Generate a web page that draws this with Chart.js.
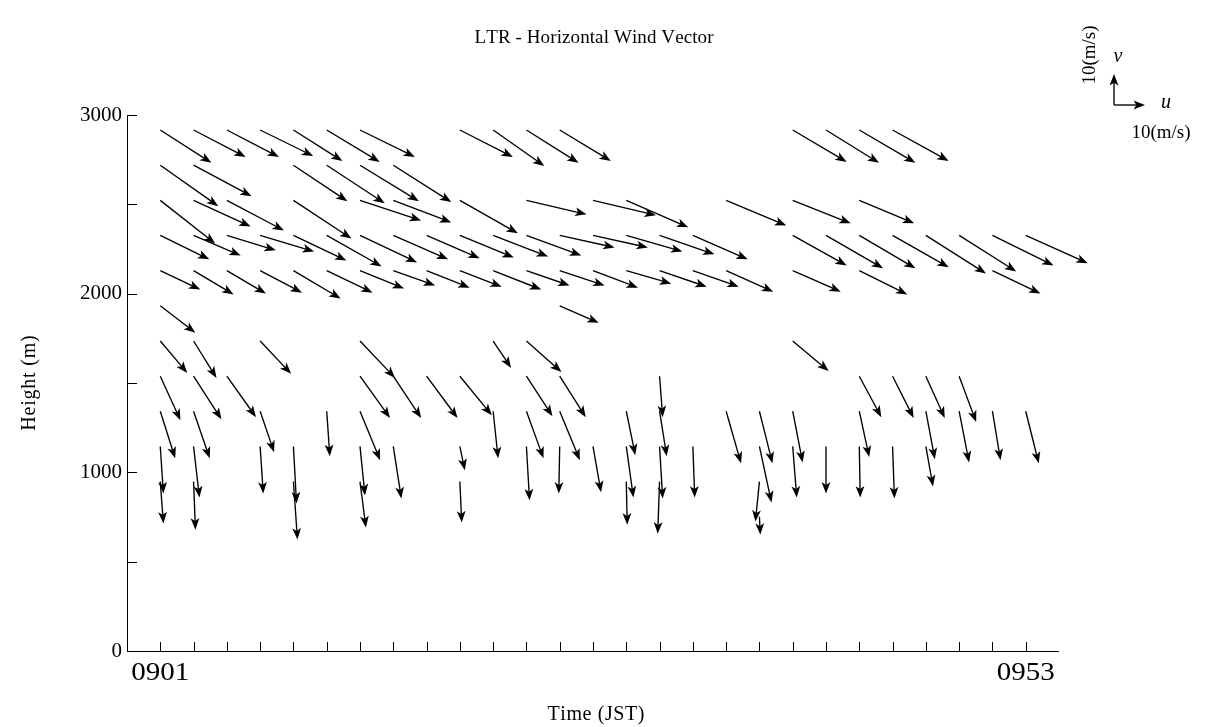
<!DOCTYPE html>
<html><head><meta charset="utf-8">
<script src="https://cdn.jsdelivr.net/npm/chart.js@4.4.1/dist/chart.umd.min.js"></script>
<style>html,body{margin:0;padding:0;background:#fff}#wrap{width:1221px;height:727px;position:relative}</style>
</head><body><div id="wrap"><canvas id="c" width="1221" height="727"></canvas></div>
<script>
const _ = null;
// time columns: minutes after 09:01 (every 2 minutes)
const timeMinutes = [0,2,4,6,8,10,12,14,16,18,20,22,24,26,28,30,32,34,36,38,40,42,44,46,48,50,52];
const xTickLabels = ['0901','0953'];
const xTickLabelValues = [0,52];
const yTickLabels = ['0','1000','2000','3000'];
const yTickLabelValues = [0,1000,2000,3000];
const yMinorTicks = [500,1500,2500];
const heights = [751,948,1145,1342,1538,1735,1932,2129,2326,2522,2719,2916];

// u (east) and v (north) wind components in m/s per height level
const u751  = [_,_,_,_,_,_,_,_,_,_,_,_,_,_,_,_,_,_,0.3,_,_,_,_,_,_,_,_];
const v751  = [_,_,_,_,_,_,_,_,_,_,_,_,_,_,_,_,_,_,-5.8,_,_,_,_,_,_,_,_];
const u948  = [1.0,0.6,_,_,1.3,_,1.9,_,_,0.6,_,_,_,_,0.3,-0.6,_,_,-1.3,_,_,_,_,_,_,_,_];
const v948  = [-13.5,-15.5,_,_,-18.7,_,-14.8,_,_,-13.2,_,_,_,_,-13.9,-16.8,_,_,-12.9,_,_,_,_,_,_,_,_];
const u1145 = [1.0,1.9,_,1.0,1.0,_,1.6,2.6,_,1.6,_,1.0,-0.3,2.6,2.3,1.0,0.6,_,3.9,1.3,0.0,0.3,0.6,2.3,_,_,_];
const v1145 = [-15.2,-16.5,_,-15.2,-18.4,_,-15.8,-16.8,_,-7.7,_,-17.4,-15.2,-14.8,-16.5,-16.8,-16.5,_,-18.1,-16.5,-15.2,-16.5,-16.8,-12.9,_,_,_];
const u1342 = [4.8,5.2,_,4.5,_,1.0,6.5,_,_,_,1.6,5.5,6.5,_,2.9,2.3,_,4.8,4.2,3.2,_,3.2,_,2.9,3.2,2.6,4.2];
const v1342 = [-15.2,-15.2,_,-13.2,_,-14.5,-15.8,_,_,_,-15.2,-15.2,-15.8,_,-14.2,-14.5,_,-16.8,-16.8,-16.5,_,-14.8,_,-15.5,-16.5,-15.8,-16.8];
const u1538 = [6.5,9.0,9.4,_,_,_,9.7,9.0,10.0,10.3,_,8.4,8.4,_,_,1.0,_,_,_,_,_,7.1,6.8,6.1,5.5,_,_];
const v1538 = [-14.2,-13.9,-13.2,_,_,_,-13.5,-13.5,-13.5,-12.6,_,-12.9,-13.2,_,_,-13.2,_,_,_,_,_,-13.2,-13.5,-13.5,-14.8,_,_];
const u1735 = [8.7,7.4,_,10.0,_,_,11.3,_,_,_,5.8,11.3,_,_,_,_,_,_,_,11.6,_,_,_,_,_,_,_];
const v1735 = [-10.3,-11.9,_,-10.6,_,_,-11.9,_,_,_,-8.7,-10.0,_,_,_,_,_,_,_,-9.7,_,_,_,_,_,_,_];
const u1932 = [11.3,_,_,_,_,_,_,_,_,_,_,_,12.6,_,_,_,_,_,_,_,_,_,_,_,_,_,_];
const v1932 = [-8.7,_,_,_,_,_,_,_,_,_,_,_,-5.5,_,_,_,_,_,_,_,_,_,_,_,_,_,_];
const u2129 = [12.9,12.9,12.6,13.5,15.2,14.8,14.2,13.5,13.9,13.5,15.5,13.9,14.5,14.5,14.5,15.2,14.8,15.2,_,15.5,_,15.5,_,_,_,15.5,_];
const v2129 = [-6.1,-7.7,-7.4,-7.1,-9.0,-7.1,-5.8,-4.8,-5.5,-5.2,-6.1,-4.8,-4.8,-5.5,-4.2,-5.2,-5.2,-6.8,_,-6.8,_,-7.7,_,_,_,-7.4,_];
const u2326 = [15.8,15.2,15.8,17.4,17.1,17.7,18.4,17.7,17.1,17.4,17.7,17.7,17.7,17.7,18.1,17.7,17.7,_,_,17.4,18.4,18.1,18.1,19.4,18.4,19.7,20.0];
const v2326 = [-7.7,-6.5,-4.8,-5.2,-8.1,-10.0,-8.7,-7.7,-7.4,-7.1,-6.8,-6.5,-3.9,-3.9,-5.2,-6.1,-7.7,_,_,-9.7,-10.6,-10.6,-10.3,-12.3,-11.6,-9.7,-9.0];
const u2522 = [17.7,18.4,18.4,_,18.7,_,19.7,18.7,_,18.7,_,19.4,_,20.3,20.0,_,_,19.4,_,18.7,_,17.7,_,_,_,_,_];
const v2522 = [-13.9,-8.4,-9.7,_,-12.3,_,-6.5,-7.1,_,-10.6,_,-4.5,_,-4.8,-8.7,_,_,-8.1,_,-7.4,_,-7.4,_,_,_,_,_];
const u2719 = [18.7,18.7,_,_,17.4,18.7,19.0,18.7,_,_,_,_,_,_,_,_,_,_,_,_,_,_,_,_,_,_,_];
const v2719 = [-13.2,-10.0,_,_,-11.6,-12.3,-11.6,-11.9,_,_,_,_,_,_,_,_,_,_,_,_,_,_,_,_,_,_,_];
const u2916 = [16.5,16.8,16.8,17.1,15.8,17.1,17.7,_,_,17.1,16.5,16.8,16.5,_,_,_,_,_,_,17.4,17.1,18.1,18.1,_,_,_,_];
const v2916 = [-10.6,-8.7,-8.7,-8.4,-10.0,-10.3,-8.7,_,_,-8.7,-11.6,-10.6,-10.0,_,_,_,_,_,_,-10.3,-10.6,-10.6,-10.0,_,_,_,_];

const uLevels = [u751,u948,u1145,u1342,u1538,u1735,u1932,u2129,u2326,u2522,u2719,u2916];
const vLevels = [v751,v948,v1145,v1342,v1538,v1735,v1932,v2129,v2326,v2522,v2719,v2916];

const PX_PER_MS = 3.1; // arrow length scale (10 m/s reference)
const FONT = '"Liberation Serif", "DejaVu Serif", serif';

const datasets = heights.map((h, li) => ({
  label: h + ' m',
  data: timeMinutes.map((t, ci) => ({x: t, y: h, u: uLevels[li][ci], v: vLevels[li][ci]})).filter(p => p.u !== null && p.v !== null),
  pointRadius: 0, showLine: false
}));

function arrow(ctx, x0, y0, x1, y1) {
  const dx = x1 - x0, dy = y1 - y0, len = Math.hypot(dx, dy);
  if (len < 0.5) return;
  const ux = dx / len, uy = dy / len;
  const hl = Math.min(11.5, len * 0.7), hw = 4.4;
  const bx = x1 - ux * hl, by = y1 - uy * hl;
  ctx.beginPath(); ctx.moveTo(x0, y0); ctx.lineTo(x1 - ux * hl * 0.6, y1 - uy * hl * 0.6); ctx.stroke();
  ctx.beginPath();
  ctx.moveTo(x1, y1);
  ctx.lineTo(bx - uy * hw, by + ux * hw);
  ctx.lineTo(x1 - ux * hl * 0.75, y1 - uy * hl * 0.75);
  ctx.lineTo(bx + uy * hw, by - ux * hw);
  ctx.closePath(); ctx.fill();
}

function spacedText(ctx, txt, cx, cy, spacing) {
  let w = 0; const ws = [];
  for (const ch of txt) { const m = ctx.measureText(ch).width; ws.push(m); w += m; }
  w += spacing * (txt.length - 1);
  let x = cx - w / 2;
  const al = ctx.textAlign; ctx.textAlign = 'left';
  [...txt].forEach((ch, i) => { ctx.fillText(ch, x, cy); x += ws[i] + spacing; });
  ctx.textAlign = al;
}

function stretchedText(ctx, txt, cx, cy, sx) {
  ctx.save(); ctx.translate(cx, cy); ctx.scale(sx, 1);
  ctx.textAlign = 'center'; ctx.fillText(txt, 0, 0); ctx.restore();
}

const vectorPlugin = {
  id: 'vectors',
  afterDatasetsDraw(chart) {
    const ctx = chart.ctx, xs = chart.scales.x, ys = chart.scales.y;
    ctx.save();
    ctx.strokeStyle = '#000'; ctx.fillStyle = '#000'; ctx.lineWidth = 1.35;
    chart.data.datasets.forEach(ds => ds.data.forEach(p => {
      const x0 = xs.getPixelForValue(p.x), y0 = ys.getPixelForValue(p.y);
      arrow(ctx, x0, y0, x0 + p.u * PX_PER_MS, y0 - p.v * PX_PER_MS);
    }));
    ctx.restore();
  },
  afterDraw(chart) {
    const ctx = chart.ctx, xs = chart.scales.x, ys = chart.scales.y, a = chart.chartArea;
    ctx.save();
    ctx.strokeStyle = '#000'; ctx.fillStyle = '#000'; ctx.lineWidth = 1;
    ctx.beginPath();
    ctx.moveTo(a.left + 0.5, a.top); ctx.lineTo(a.left + 0.5, a.bottom + 0.5); ctx.lineTo(a.right, a.bottom + 0.5);
    ctx.stroke();
    ctx.beginPath();
    timeMinutes.forEach(t => { const x = Math.round(xs.getPixelForValue(t)) + 0.5; ctx.moveTo(x, a.bottom); ctx.lineTo(x, a.bottom - 9); });
    yTickLabelValues.concat(yMinorTicks).forEach(v => { const y = Math.round(ys.getPixelForValue(v)) + 0.5; ctx.moveTo(a.left, y); ctx.lineTo(a.left + 10, y); });
    ctx.stroke();
    ctx.textBaseline = 'middle';
    ctx.font = '25px ' + FONT;
    xTickLabels.forEach((l, i) => stretchedText(ctx, l, xs.getPixelForValue(xTickLabelValues[i]), a.bottom + 22, 1.16));
    ctx.textAlign = 'right';
    ctx.font = '21px ' + FONT;
    yTickLabels.forEach((l, i) => ctx.fillText(l, a.left - 5, ys.getPixelForValue(yTickLabelValues[i])));
    ctx.textAlign = 'center';
    ctx.font = '19px ' + FONT;
    spacedText(ctx, 'LTR - Horizontal Wind Vector', 594, 38, 0.1);
    ctx.font = '20px ' + FONT;
    spacedText(ctx, 'Time (JST)', 596, 715, 0.6);
    ctx.save(); ctx.translate(30, 383); ctx.rotate(-Math.PI / 2); spacedText(ctx, 'Height (m)', 0, 0, 0.8); ctx.restore();
    // reference vector legend
    const ox = 1114, oy = 105, L = 10 * PX_PER_MS;
    ctx.lineWidth = 1.35;
    arrow(ctx, ox, oy, ox + L, oy);
    arrow(ctx, ox, oy, ox, oy - L);
    ctx.font = '19px ' + FONT;
    ctx.fillText('10(m/s)', 1161, 133);
    ctx.save(); ctx.translate(1090, 55); ctx.rotate(-Math.PI / 2); ctx.fillText('10(m/s)', 0, 0); ctx.restore();
    ctx.font = 'italic 20px ' + FONT;
    ctx.fillText('v', 1118, 57);
    ctx.fillText('u', 1166, 103);
    ctx.restore();
  }
};

new Chart(document.getElementById('c'), {
  type: 'scatter',
  data: { datasets },
  options: {
    responsive: false, animation: false,
    layout: { padding: { left: 127, right: 162, top: 115, bottom: 76 } },
    plugins: { legend: { display: false }, tooltip: { enabled: false }, title: { display: false } },
    scales: {
      x: { type: 'linear', min: -2, max: 54, display: false },
      y: { type: 'linear', min: 0, max: 3000, display: false }
    }
  },
  plugins: [vectorPlugin]
});
</script></body></html>
